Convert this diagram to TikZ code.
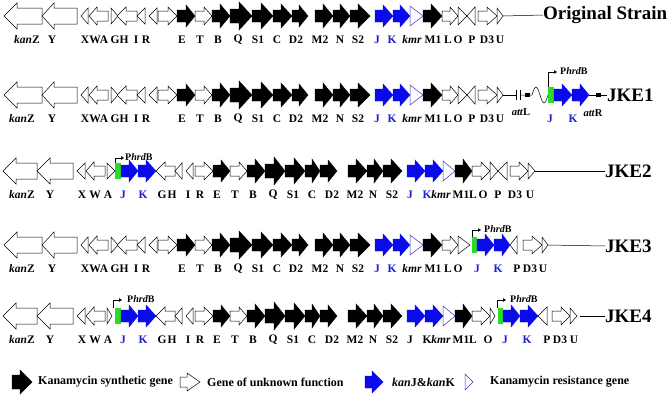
\documentclass[tikz,border=0pt]{standalone}
\usepackage{fontspec}
\setmainfont{Liberation Serif}
\usetikzlibrary{arrows.meta}
\definecolor{gblue}{RGB}{10,10,235}
\definecolor{gbluetxt}{RGB}{30,30,210}
\definecolor{ggreen}{RGB}{40,220,40}
\definecolor{rblue}{RGB}{50,50,200}
\newcommand\gar[6]{\draw[#1] (#2,-#5)--(#3,-#5)--(#3,-#6)--(#4,0)--(#3,#6)--(#3,#5)--(#2,#5)--cycle;}
\newcommand\gtri[4]{\draw[#1] (#2,-#4)--(#3,0)--(#2,#4)--cycle;}
\newcommand\lab[4][]{\node[lab,#1] (\rowid-#2) at (#3,24) {#4};}
\newcommand\prom[4]{% x, ytop, textx, name
  \draw[promline] (#1,-8) -- (#1,#2) -- (#1+9,#2);
  \node[promtxt] (\rowid-#4) at (#3,#2-1) {P\textit{hrd}B};}
\newcommand\genesA{%
\gar{wht}{42}{17}{4}{8}{13}
\gar{wht}{77}{54}{42}{8}{13}
\gtri{wht}{88}{81}{8}
\gar{wht}{108}{97}{89}{5}{9}
\gtri{wht}{111}{118}{8}
\gar{wht}{137}{126}{117}{5}{9}
\gtri{wht}{145}{137}{8}
\gtri{wht}{157}{149}{8}
\gar{wht}{158}{168}{177}{5}{9}
\gar{blk}{177}{186}{195}{6}{11}
\gar{wht}{195}{204}{212}{5}{9}
\gar{blk}{212}{220}{230}{6}{12}
\gar{blk}{230}{239}{252}{7}{14}
\gar{blk}{252}{261}{273}{6}{13}
\gar{blk}{273}{281}{292}{6}{12}
\gar{blk}{292}{299}{308}{6}{11}
\gar{blk}{315}{323}{333}{6}{12}
\gar{blk}{333}{340}{350}{6}{12}
\gar{blk}{350}{358}{370}{6}{12}
\gar{blu}{375}{383}{393}{6}{11}
\gar{blu}{393}{400}{410}{6}{11}
\gtri{res}{410}{423}{10}
\gar{blk}{423}{431}{442}{6}{12}
\gar{wht}{442}{450}{458}{5}{9}
}
\newcommand\tailA{%
\gtri{wht}{458}{467}{9}
\gtri{wht}{475}{467}{9}
\gar{wht}{478}{487}{497}{5}{9}
\gtri{wht}{497}{503}{8}
\coordinate (\rowid-end) at (503,0);
}
\newcommand\labsA[1]{% #1 = kanZ x
\lab{kanZ}{#1}{\textit{kan}Z}
\lab{Y}{52}{Y}
\lab{X}{85}{X}
\lab{W}{95}{W}
\lab{A}{104}{A}
\lab{G}{115}{G}
\lab{H}{124}{H}
\lab{I}{136}{I}
\lab{R}{146}{R}
\lab{E}{182}{E}
\lab{T}{200}{T}
\lab{B}{218}{B}
\lab{Q}{238}{Q}
\lab{S1}{258}{S1}
\lab{C}{277}{C}
\lab{D2}{296}{D2}
\lab{M2}{320}{M2}
\lab{N}{340}{N}
\lab{S2}{358}{S2}
\lab[bl]{J}{377}{J}
\lab[bl]{K}{392}{K}
\lab{kmr}{412}{\textit{kmr}}
\lab{M1}{433}{M1}
\lab{L}{448}{L}
}
\newcommand\genesB{%
\gar{wht}{37}{16}{3}{8}{13}
\gar{wht}{73}{50}{37}{8}{13}
\gtri{wht}{85}{77}{8}
\gar{wht}{105}{94}{86}{5}{9}
\fill[ggreen] (115,-8) rectangle (121,8);
\gar{blu}{121}{129}{138}{6}{11}
\gar{blu}{138}{146}{156}{6}{11}
\gar{wht}{175}{165}{156}{5}{9}
\gtri{wht}{182}{175}{8}
\gtri{wht}{193}{186}{8}
\gar{wht}{195}{204}{213}{5}{9}
\gar{blk}{213}{221}{230}{6}{11}
\gar{wht}{230}{239}{247}{5}{9}
\gar{blk}{247}{255}{265}{6}{12}
\gar{blk}{265}{274}{285}{7}{14}
\gar{blk}{285}{294}{305}{6}{13}
\gar{blk}{305}{312}{320}{6}{12}
\gar{blk}{320}{328}{337}{6}{11}
\gar{blk}{348}{356}{367}{6}{12}
\gar{blk}{367}{374}{383}{6}{12}
\gar{blk}{383}{391}{402}{6}{12}
\gar{blu}{407}{415}{425}{6}{11}
\gar{blu}{425}{433}{443}{6}{11}
\gtri{res}{443}{455}{10}
\gar{blk}{455}{463}{472}{6}{12}
\gar{wht}{472}{481}{490}{5}{9}
}
\newcommand\labsB[1]{% #1 = style of the middle J K labels
\lab{kanZ}{22}{\textit{kan}Z}
\lab{Y}{50}{Y}
\lab{X}{82}{X}
\lab{W}{95}{W}
\lab{A}{108}{A}
\lab[bl]{J1}{123}{J}
\lab[bl]{K1}{143}{K}
\lab{G}{162}{G}
\lab{H}{172}{H}
\lab{I}{188}{I}
\lab{R}{200}{R}
\lab{E}{217}{E}
\lab{T}{235}{T}
\lab{B}{253}{B}
\lab{Q}{273}{Q}
\lab{S1}{293}{S1}
\lab{C}{312}{C}
\lab{D2}{332}{D2}
\lab{M2}{355}{M2}
\lab{N}{373}{N}
\lab{S2}{392}{S2}
\lab[#1]{J}{410}{J}
\lab[#1]{K}{427}{K}
\lab{kmr}{441}{\textit{kmr}}
\lab{M1}{461}{M1}
\lab{L}{473}{L}
}
\begin{document}
\begin{tikzpicture}[x=1pt,y=-1pt,
  blk/.style={fill=black,draw=black,line width=0.4pt,line join=miter},
  wht/.style={fill=white,draw=black,line width=0.5pt},
  blu/.style={fill=gblue,draw=gblue,line width=0.4pt},
  res/.style={fill=white,draw=rblue,line width=0.5pt},
  lab/.style={font=\fontsize{11.5}{12}\selectfont\bfseries,inner sep=0pt},
  bl/.style={text=gbluetxt},
  title/.style={font=\fontsize{19}{20}\selectfont\bfseries,anchor=west,inner sep=0pt},
  promline/.style={line width=0.5pt,-{Triangle[length=3pt,width=3.5pt]}},
  promtxt/.style={font=\fontsize{10}{11}\selectfont\bfseries,anchor=west,inner sep=0pt},
  lnk/.style={line width=0.5pt},
  leg/.style={font=\fontsize{12}{13}\selectfont\bfseries,anchor=west,inner sep=0pt}]
\useasboundingbox (0,0) rectangle (670,400);
\fill[white] (0,0) rectangle (670,400);

% ---------- Original strain ----------
\begin{scope}[shift={(0,16)}]
\def\rowid{r1}
\genesA \tailA \labsA{27}
\lab{O}{458}{O}\lab{P}{472}{P}\lab{D3}{487}{D3}\lab{U}{500}{U}
\node[title] (r1-title) at (543,-1) {Original Strain};
\draw[lnk] (r1-end) -- (r1-title.west);
\end{scope}

% ---------- JKE1 ----------
\begin{scope}[shift={(0,95)}]
\def\rowid{r2}
\genesA \tailA \labsA{22}
\lab{O}{458}{O}\lab{P}{472}{P}\lab{D3}{487}{D3}\lab{U}{500}{U}
\coordinate (r2-b1) at (516,0);
\coordinate (r2-b2) at (520,0);
\draw[lnk] (r2-end) -- (r2-b1);
\draw[lnk] (516,-5) -- (516,5) (520,-5) -- (520,5);
\draw[lnk] (r2-b2) -- (532,0) sin (536,-8) cos (540,0) sin (544,8) cos (548,0);
\fill (525,-2) rectangle (530,2);
\fill[ggreen] (548,-8) rectangle (554,8);
\gar{blu}{554}{562}{572}{6}{11}
\gar{blu}{572}{580}{589}{6}{11}
\node[title] (r2-title) at (607,0) {JKE1};
\draw[lnk] (589,0) -- (r2-title.west);
\fill (596,-2) rectangle (601,2);
\prom{548}{-23}{560}{P}
\node[lab,font=\fontsize{10.5}{11}\selectfont\bfseries] (r2-attL) at (521,17) {\textit{att}L};
\node[lab,font=\fontsize{10.5}{11}\selectfont\bfseries] (r2-attR) at (593,18) {\textit{att}R};
\lab[bl]{J2}{550}{J}
\lab[bl]{K2}{573}{K}
\end{scope}

% ---------- JKE2 ----------
\begin{scope}[shift={(0,171)}]
\def\rowid{r3}
\genesB
\gtri{wht}{107}{115}{8}
\prom{115}{-13}{125}{P}
\gtri{wht}{490}{498}{9}
\gtri{wht}{507}{498}{9}
\gar{wht}{510}{519}{528}{5}{9}
\gtri{wht}{528}{535}{8}
\coordinate (r3-end) at (535,0);
\labsB{bl}
\lab{O}{483}{O}\lab{P}{498}{P}\lab{D3}{515}{D3}\lab{U}{530}{U}
\node[title] (r3-title) at (605,0) {JKE2};
\draw[lnk] (r3-end) -- (r3-title.west);
\end{scope}

% ---------- JKE3 ----------
\begin{scope}[shift={(0,245)}]
\def\rowid{r4}
\genesA \labsA{22}
\gtri{wht}{458}{470}{9}
\fill[ggreen] (472,-8) rectangle (477,8);
\gar{blu}{477}{485}{494}{6}{11}
\gar{blu}{494}{502}{510}{6}{11}
\gtri{wht}{517}{510}{9}
\gar{wht}{523}{532}{542}{5}{9}
\gtri{wht}{542}{548}{8}
\coordinate (r4-end) at (548,0);
\prom{472}{-15}{484}{P}
\lab{O}{458}{O}\lab[bl]{J2}{477}{J}\lab[bl]{K2}{498}{K}\lab{P}{517}{P}\lab{D3}{530}{D3}\lab{U}{543}{U}
\node[title] (r4-title) at (605,1) {JKE3};
\draw[lnk] (r4-end) -- (r4-title.west);
\end{scope}

% ---------- JKE4 ----------
\begin{scope}[shift={(0,316)}]
\def\rowid{r5}
\genesB
\gtri{wht}{107}{112}{8}
\prom{113}{-16}{127}{P}
\gtri{wht}{490}{495}{8}
\fill[ggreen] (498,-8) rectangle (503,8);
\gar{blu}{503}{511}{520}{6}{11}
\gar{blu}{520}{528}{538}{6}{11}
\gtri{wht}{547}{538}{9}
\gar{wht}{552}{561}{570}{5}{9}
\gtri{wht}{570}{577}{8}
\coordinate (r5-end) at (580,0);
\prom{497}{-16}{510}{P2}
\labsB{}
\lab{O}{488}{O}\lab[bl]{J2}{505}{J}\lab[bl]{K2}{527}{K}\lab{P}{547}{P}\lab{D3}{560}{D3}\lab{U}{574}{U}
\node[title] (r5-title) at (605,0) {JKE4};
\draw[lnk] (r5-end) -- (r5-title.west);
\end{scope}

% ---------- legend ----------
\begin{scope}[shift={(0,382)}]
\def\rowid{lg}
\gar{blk}{12}{20}{32}{7}{12}
\node[leg] (lg-1) at (38,0) {Kanamycin synthetic gene};
\gar{wht}{180}{187}{200}{5}{9}
\node[leg] (lg-2) at (207,0) {Gene of unknown function};
\gar{blu}{365}{372}{383}{6}{11}
\node[leg] (lg-3) at (392,0) {\textit{kan}J\&\textit{kan}K};
\gtri{res}{465}{473}{8}
\node[leg] (lg-4) at (490,0) {Kanamycin resistance gene};
\end{scope}
\end{tikzpicture}
\end{document}
